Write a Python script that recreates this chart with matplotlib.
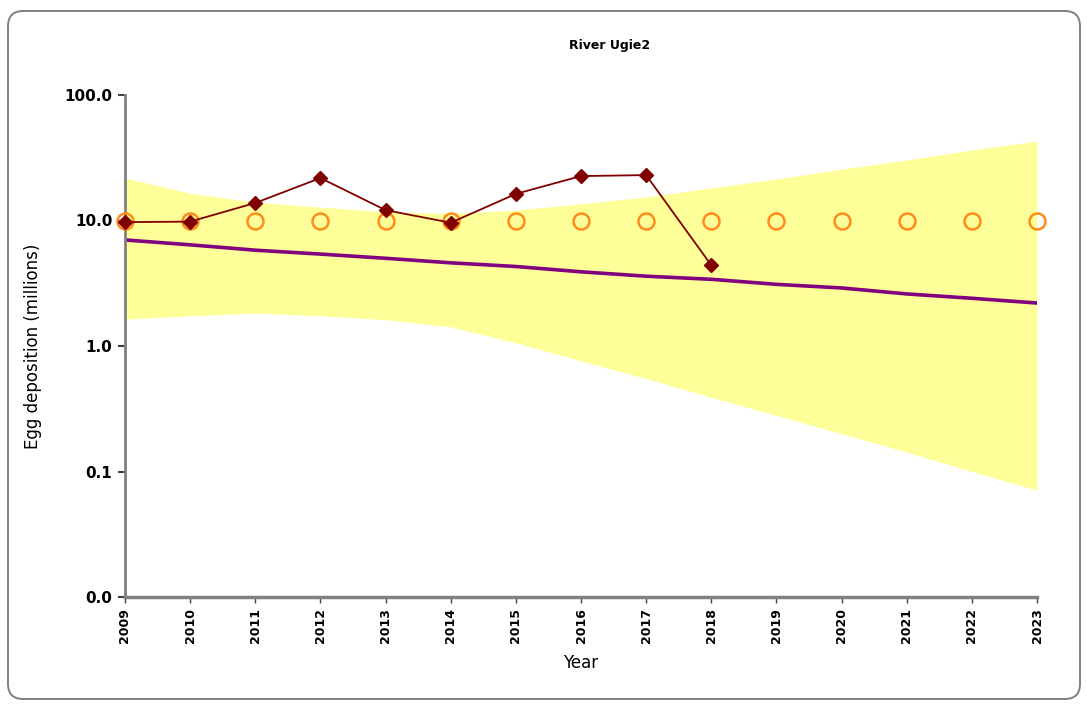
import matplotlib
matplotlib.use("Agg")
import matplotlib.pyplot as plt
from matplotlib.patches import FancyBboxPatch
import numpy as np

years = list(range(2009, 2024))
obs_years = list(range(2009, 2019))
observed = [9.7, 9.8, 13.8, 21.8, 12.1, 9.6, 16.3, 22.6, 23.0, 4.4]
conservation = [10.0] * 15
trend = [7.0, 6.4, 5.8, 5.4, 5.0, 4.6, 4.3, 3.9, 3.6, 3.4, 3.1, 2.9, 2.6, 2.4, 2.2]
upper = [21.8, 16.5, 14.0, 12.8, 11.7, 11.4, 12.1, 13.6, 15.4, 18.2, 21.4, 25.7, 30.3, 36.5, 43.0]
lower = [1.64, 1.74, 1.83, 1.74, 1.62, 1.42, 1.06, 0.76, 0.55, 0.39, 0.28, 0.20, 0.143, 0.10, 0.071]
ytick_vals = [0.01, 0.1, 1, 10, 100]
ytick_labels = ["0.0", "0.1", "1.0", "10.0", "100.0"]

fig = plt.figure(figsize=(10.87, 7.05), dpi=100)
frame = FancyBboxPatch((8/1087, 6/705), 1072/1087, 688/705,
                       boxstyle="round,pad=0,rounding_size=0.014",
                       transform=fig.transFigure, facecolor="none",
                       edgecolor="#808080", lw=1.4, zorder=-1, mutation_aspect=1087/705)
fig.patches.append(frame)

ax = fig.add_axes([125/1087, 1 - 597/705, (1037 - 125)/1087, (597 - 95)/705])
ax.set_facecolor("none")
ax.fill_between(years, lower, upper, color="#FFFF99", lw=0, zorder=1)
ax.plot(years, trend, color="#800080", lw=2.6, zorder=2)
ax.plot(years, conservation, ls="none", marker="o", ms=11.5, mfc="none",
        mec="#FF8C1A", mew=1.8, zorder=3, clip_on=False)
ax.plot(obs_years, observed, color="#800000", lw=1.3, marker="D", ms=7,
        mfc="#800000", mec="#800000", zorder=4, clip_on=False)

ax.set_yscale("log")
ax.set_ylim(0.01, 100)
ax.set_xlim(2009, 2023)
ax.set_yticks(ytick_vals)
ax.set_yticklabels(ytick_labels, fontsize=11, fontweight="bold")
ax.yaxis.set_minor_locator(matplotlib.ticker.NullLocator())
ax.set_xticks(years)
ax.set_xticklabels([str(y) for y in years], rotation=90, fontsize=9, fontweight="bold")
for s in ["top", "right"]:
    ax.spines[s].set_visible(False)
ax.spines["left"].set_color("#808080")
ax.spines["left"].set_linewidth(2)
ax.spines["bottom"].set_color("#808080")
ax.spines["bottom"].set_linewidth(2.5)
ax.tick_params(axis="y", length=5, width=1.5, color="#404040", pad=4)
ax.tick_params(axis="x", length=4, width=1, color="#404040", pad=4)

ax.set_xlabel("Year", fontsize=12, labelpad=8)
ax.set_ylabel("Egg deposition (millions)", fontsize=12, labelpad=16)
fig.text(610/1087, 1 - 45/705, "River Ugie2", ha="center", va="center", fontsize=9, fontweight="bold")

fig.savefig("out.png", dpi=100)
